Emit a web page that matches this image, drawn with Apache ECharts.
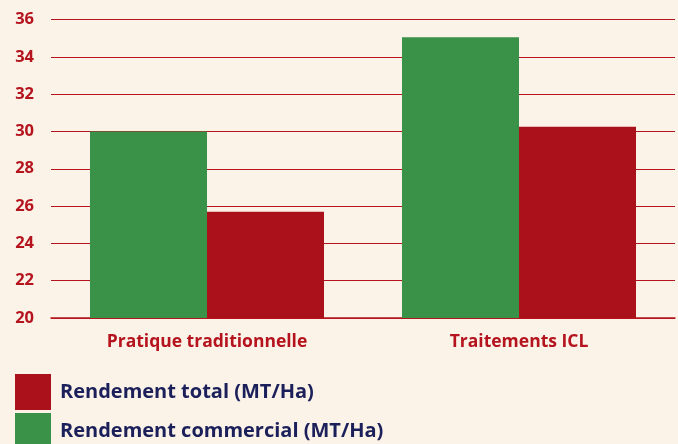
<!DOCTYPE html>
<html><head><meta charset="utf-8">
<script src="https://cdn.jsdelivr.net/npm/echarts@6/dist/echarts.min.js"></script>
<style>html,body{margin:0;padding:0;background:#fbf3e7;}#c{width:678px;height:444px;}</style>
</head><body><div id="c"></div>
<script>
const categories = ["Pratique traditionnelle", "Traitements ICL"];
const commercial = [30.0, 35.05];
const total = [25.7, 30.25];
const seriesNames = ["Rendement commercial (MT/Ha)", "Rendement total (MT/Ha)"];
const yMin = 20, yMax = 36, yStep = 2;

const red = "#ab111b", green = "#3a9148", navy = "#1b1f5a", axisRed = "#b5141e";
const legendText = {color: navy, fontFamily: "Open Sans", fontWeight: 'bold', fontSize: 20, padding: [0, 0, 0, 4]};
const chart = echarts.init(document.getElementById('c'), null, {renderer: 'canvas'});
chart.setOption({
  backgroundColor: "#fbf3e7",
  animation: false,
  grid: {left: 51, right: 3, top: 19.5, bottom: 126},
  legend: [
    {data: [seriesNames[1]], orient: 'vertical', left: 15, top: 374, padding: 0,
     itemWidth: 36, itemHeight: 36, icon: 'rect', textStyle: legendText},
    {data: [seriesNames[0]], orient: 'vertical', left: 15, top: 413, padding: 0,
     itemWidth: 36, itemHeight: 36, icon: 'rect', textStyle: legendText}
  ],
  xAxis: {
    type: 'category', data: categories,
    axisLine: {show: true, lineStyle: {color: axisRed, width: 1.5}},
    axisTick: {show: false},
    axisLabel: {color: axisRed, fontFamily: "Open Sans", fontWeight: 'bold', fontSize: 17.5, margin: 15}
  },
  yAxis: {
    type: 'value', min: yMin, max: yMax, interval: yStep,
    axisLine: {show: false}, axisTick: {show: false},
    splitLine: {lineStyle: {color: axisRed, width: 1.2}},
    axisLabel: {color: axisRed, fontFamily: "Open Sans", fontWeight: 'bold', fontSize: 16.5, margin: 17}
  },
  series: [
    {name: seriesNames[0], type: 'bar', data: commercial, itemStyle: {color: green}, barWidth: 117, barGap: '0%'},
    {name: seriesNames[1], type: 'bar', data: total, itemStyle: {color: red}, barWidth: 117, barGap: '0%'}
  ]
});
</script></body></html>
